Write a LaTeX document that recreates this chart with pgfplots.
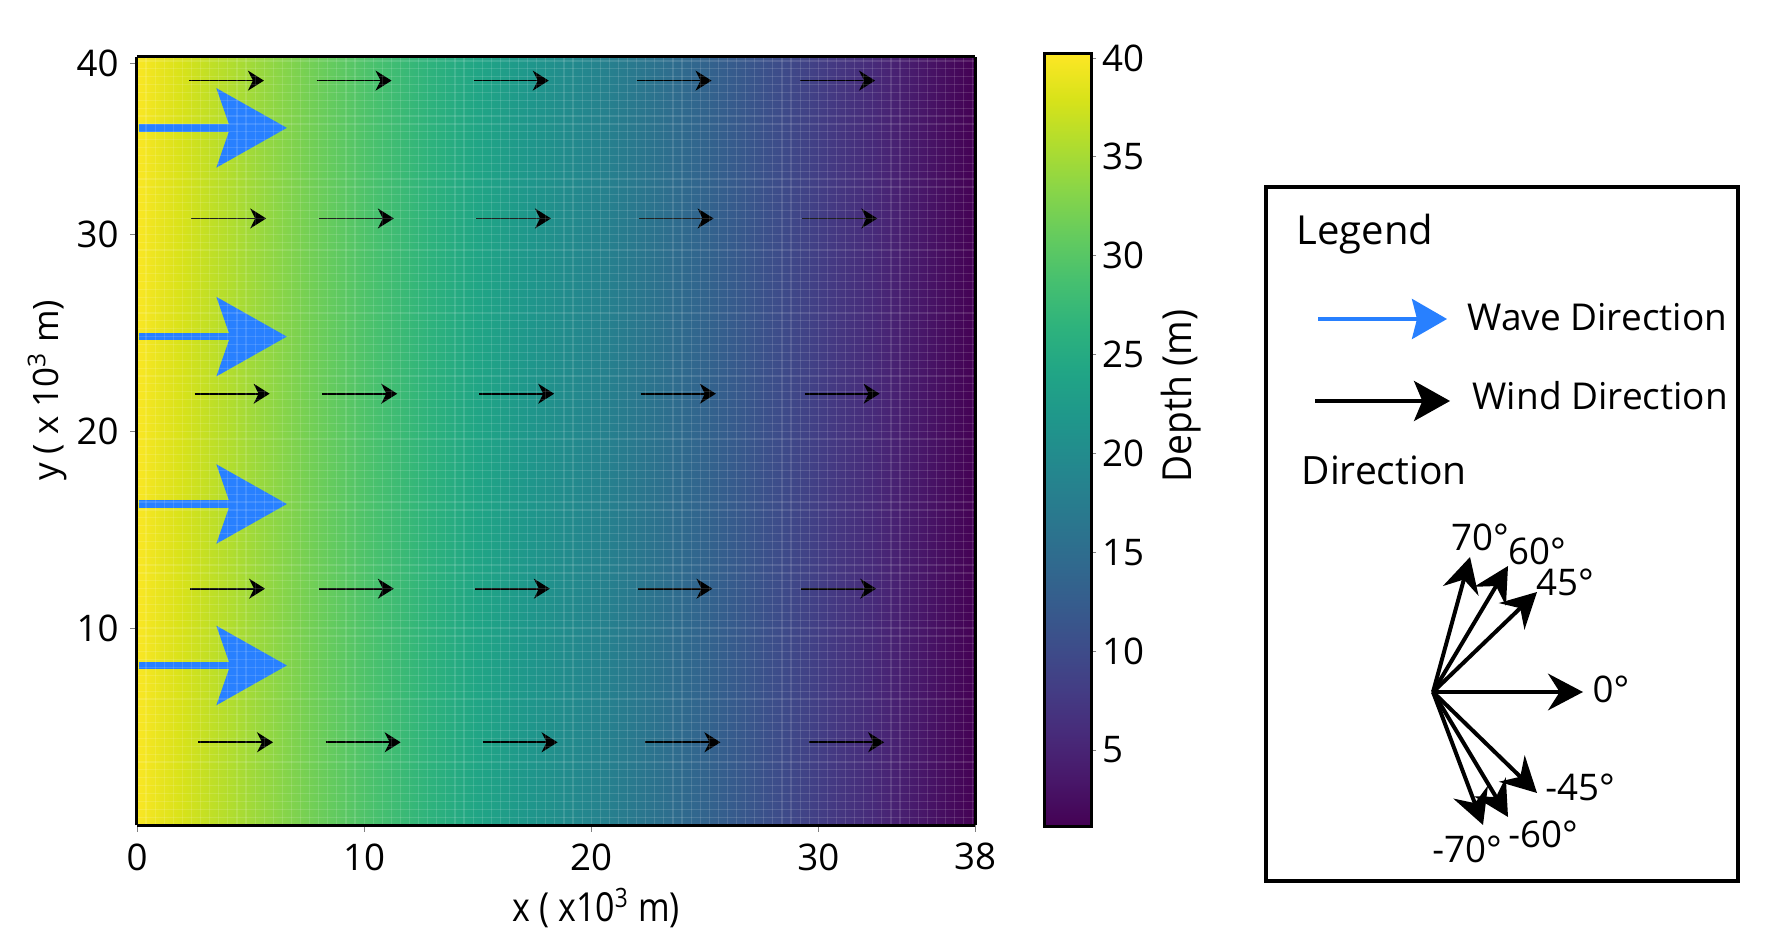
\documentclass[border=0pt]{standalone}
\usepackage{fontspec}
\setmainfont{Open Sans}
\usepackage{graphicx}
\usepackage{pgfplots}
\pgfplotsset{compat=1.18}
\usetikzlibrary{arrows.meta}

\definecolor{waveblue}{RGB}{40,128,255}

% depth field: x (10^3 m), y (10^3 m), depth (m)
\pgfplotstableread{
x y z d
0 0 0 40.0
1 0 0 38.9
2 0 0 37.9
3 0 0 36.8
4 0 0 35.8
5 0 0 34.7
6 0 0 33.7
7 0 0 32.6
8 0 0 31.5
9 0 0 30.5
10 0 0 29.4
11 0 0 28.4
12 0 0 27.3
13 0 0 26.3
14 0 0 25.2
15 0 0 24.1
16 0 0 23.1
17 0 0 22.0
18 0 0 21.0
19 0 0 19.9
20 0 0 18.9
21 0 0 17.8
22 0 0 16.7
23 0 0 15.7
24 0 0 14.6
25 0 0 13.6
26 0 0 12.5
27 0 0 11.5
28 0 0 10.4
29 0 0 9.3
30 0 0 8.3
31 0 0 7.2
32 0 0 6.2
33 0 0 5.1
34 0 0 4.1
35 0 0 3.0
36 0 0 2.0
36.9 0 0 1.0
0 39 0 40.0
1 39 0 38.9
2 39 0 37.9
3 39 0 36.8
4 39 0 35.8
5 39 0 34.7
6 39 0 33.7
7 39 0 32.6
8 39 0 31.5
9 39 0 30.5
10 39 0 29.4
11 39 0 28.4
12 39 0 27.3
13 39 0 26.3
14 39 0 25.2
15 39 0 24.1
16 39 0 23.1
17 39 0 22.0
18 39 0 21.0
19 39 0 19.9
20 39 0 18.9
21 39 0 17.8
22 39 0 16.7
23 39 0 15.7
24 39 0 14.6
25 39 0 13.6
26 39 0 12.5
27 39 0 11.5
28 39 0 10.4
29 39 0 9.3
30 39 0 8.3
31 39 0 7.2
32 39 0 6.2
33 39 0 5.1
34 39 0 4.1
35 39 0 3.0
36 39 0 2.0
36.9 39 0 1.0
}\depthgrid

% wind arrows
\pgfplotstableread{
x y u v
2.29 37.8 3.3 0
7.91 37.8 3.3 0
14.83 37.8 3.3 0
22.00 37.8 3.3 0
29.20 37.8 3.3 0
2.39 30.8 3.3 0
8.01 30.8 3.3 0
14.93 30.8 3.3 0
22.09 30.8 3.3 0
29.30 30.8 3.3 0
2.54 21.9 3.3 0
8.16 21.9 3.3 0
15.07 21.9 3.3 0
22.19 21.9 3.3 0
29.40 21.9 3.3 0
2.34 12.0 3.3 0
8.01 12.0 3.3 0
14.88 12.0 3.3 0
22.04 12.0 3.3 0
29.25 12.0 3.3 0
2.69 4.2 3.3 0
8.31 4.2 3.3 0
15.22 4.2 3.3 0
22.39 4.2 3.3 0
29.60 4.2 3.3 0
}\wind

% wave arrows
\pgfplotstableread{
x y u v
0.1 35.4 6.5 0
0.1 24.8 6.5 0
0.1 16.3 6.5 0
0.1 8.1 6.5 0
}\wave

% direction fan in the legend box (box units)
\pgfplotstableread{
x y u v
167 189 150 0
167 189 104 100
167 189 75 126
167 189 37 135
167 189 104 -101
167 189 75 -125
167 189 50 -133
}\fan

\begin{document}
\begin{tikzpicture}
\path[use as bounding box] (0,0) rectangle (531.9pt,283.8pt);

\begin{axis}[
  at={(41.1pt,36.3pt)}, anchor=south west,
  scale only axis, width=251.4pt, height=230.4pt,
  view={0}{90},
  xmin=0, xmax=36.9, ymin=0, ymax=39,
  xtick={0,10,20,30,36.9}, xticklabels={0,10,20,30,38},
  ytick={10,20,30,38.7}, yticklabels={10,20,30,40},
  ztick=\empty,
  minor xtick={0,0.4,...,36.9}, minor ytick={0,0.4,...,39},
  minor tick length=0pt,
  minor grid style={white, opacity=0.13, line width=0.35pt},
  xminorgrids, yminorgrids,
  tick pos=left,
  tick align=outside, major tick length=2pt,
  tick label style={font=\fontsize{11}{13}\selectfont},
  axis line style={line width=0.9pt},
  axis on top,
  colormap/viridis,
  point meta min=1.15, point meta max=40.2,
  xlabel={\scalebox{0.85}[1]{x ( x10\textsuperscript{3} m)}},
  ylabel={y ( x 10\textsuperscript{3} m)},
  xlabel style={at={(axis description cs:0.548,-0.108)}, anchor=center, font=\fontsize{12}{14}\selectfont},
  ylabel style={at={(axis description cs:-0.107,0.566)}, anchor=center, rotate=0, font=\fontsize{10.5}{13}\selectfont},
  colorbar,
  colorbar style={
    at={(parent axis.south east)}, anchor=south west,
    xshift=12.3pt, yshift=-0.3pt,
    scale only axis, width=14.1pt, height=231.6pt,
    ytick={5,10,...,40},
    ytick pos=right, yticklabel pos=right,
    tick align=outside, major tick length=1.5pt,
    /pgf/number format/assume math mode=true,
    yticklabel style={font=\fontsize{11}{13}\selectfont, inner xsep=1.5pt},
    axis line style={line width=0.9pt},
    ylabel={\scalebox{0.93}[1]{Depth (m)}},
    ylabel style={at={(axis description cs:2.91,0.557)}, anchor=center, font=\fontsize{12}{14}\selectfont},
  },
]
\addplot3[surf, shader=interp, mesh/cols=38, point meta=\thisrow{d}]
  table[x=x, y=y, z=z] {\depthgrid};
\addplot[black, line width=0.5pt,
  -{Stealth[length=4.8pt, width=6pt, inset=1.5pt]},
  quiver={u=\thisrow{u}, v=\thisrow{v}}]
  table[x=x, y=y] {\wind};
\addplot[waveblue, line width=2.2pt,
  -{Stealth[length=21pt, width=23.5pt, inset=4pt]},
  quiver={u=\thisrow{u}, v=\thisrow{v}}]
  table[x=x, y=y] {\wave};
\end{axis}

% legend box
\begin{axis}[
  at={(379.8pt,19.5pt)}, anchor=south west,
  scale only axis, width=141.6pt, height=208.2pt,
  xmin=0, xmax=472, ymin=0, ymax=694,
  xtick=\empty, ytick=\empty,
  axis line style={line width=1.2pt},
  clip=false,
]
\addplot[black, line width=1.2pt,
  -{Stealth[length=10.5pt, width=11pt, inset=3.5pt]},
  quiver={u=\thisrow{u}, v=\thisrow{v}}]
  table[x=x, y=y] {\fan};
\addplot[waveblue, line width=1.2pt,
  -{Stealth[length=10.5pt, width=12pt, inset=1.5pt]},
  quiver={u=129, v=0}]
  coordinates {(52,562)};
\addplot[black, line width=1.2pt,
  -{Stealth[length=10.8pt, width=12pt, inset=2.5pt]},
  quiver={u=135, v=0}]
  coordinates {(49,480)};

\node[anchor=base west, inner sep=0pt, font=\fontsize{12}{14}\selectfont] at (axis cs:30,636) {Legend};
\node[anchor=base west, inner sep=0pt, font=\fontsize{11.1}{14}\selectfont] at (axis cs:201,550) {Wave Direction};
\node[anchor=base west, inner sep=0pt, font=\fontsize{11.1}{14}\selectfont] at (axis cs:206,471) {Wind Direction};
\node[anchor=base west, inner sep=0pt, font=\fontsize{11.7}{14}\selectfont] at (axis cs:35,396) {Direction};

\begin{scope}[every node/.style={inner sep=0pt, font=\fontsize{11}{13}\selectfont}]
\node at (axis cs:214,344) {70°};
\node at (axis cs:271,330) {60°};
\node at (axis cs:299,299) {45°};
\node at (axis cs:345,192) {0°};
\node at (axis cs:314,94) {-45°};
\node at (axis cs:277,47) {-60°};
\node at (axis cs:201,32) {-70°};
\end{scope}
\end{axis}
\end{tikzpicture}
\end{document}
